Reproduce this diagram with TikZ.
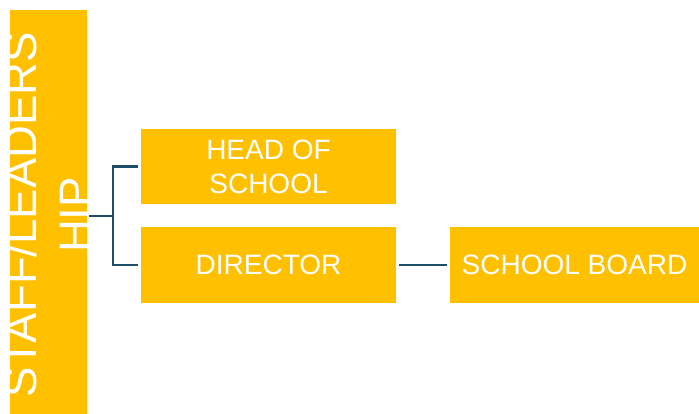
\documentclass[tikz,border=0pt]{standalone}
\usepackage{fontspec}
\setmainfont{Liberation Sans}
\usepackage{tikz}
\usetikzlibrary{calc,positioning}
\definecolor{gold}{HTML}{FFC000}
\definecolor{teal}{HTML}{1F4E68}

\begin{document}
\begin{tikzpicture}[x=1pt,y=-1pt,
  box/.style={fill=gold,text=white,inner sep=0pt,align=center,
    font=\fontsize{28}{34}\selectfont},
  conn/.style={draw=teal,line width=2.2pt}]
\useasboundingbox (0,0) rectangle (699,414);
% left bar
\node[box,minimum width=77pt,minimum height=404pt] (bar) at (48.5,212) {};
\begin{scope}
\clip (bar.north west) rectangle (bar.south east);
\node[text=white,rotate=90,align=center,inner sep=0pt,
  font=\fontsize{45.5}{55}\selectfont] (barlabel) at (48,215) {STAFF/LEADERS\\HIP};
\end{scope}
% boxes
\node[box,minimum width=255pt,minimum height=75pt] (head) at (268.5,166.5) {HEAD OF\\SCHOOL};
\node[box,minimum width=255pt,minimum height=76pt] (dir) at (268.5,265) {DIRECTOR};
\node[box,minimum width=249pt,minimum height=76pt] (board) at (574.5,265) {SCHOOL BOARD};
% connectors
\coordinate (fork) at (113,216);
\draw[conn] ([xshift=2pt]bar.east |- fork) -- (fork);
\draw[conn] ([xshift=-3pt]head.west) -| (fork) |- ([xshift=-3pt]dir.west);
\draw[conn,shorten <=3pt,shorten >=3pt] (dir.east) -- (board.west);
\end{tikzpicture}
\end{document}
